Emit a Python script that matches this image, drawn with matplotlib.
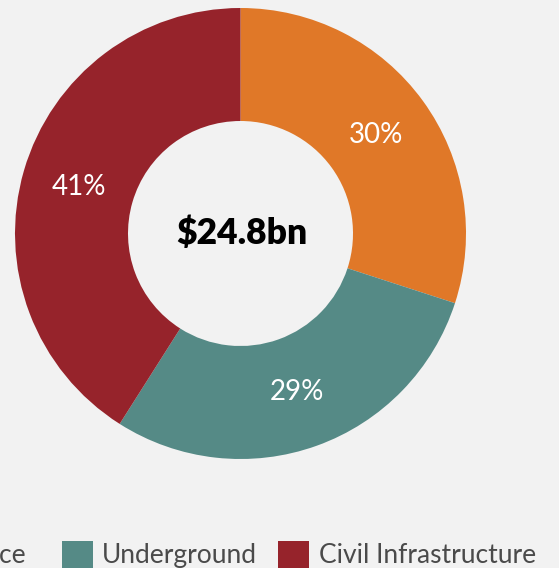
import matplotlib
matplotlib.use("Agg")
import matplotlib.pyplot as plt
from matplotlib.patches import Rectangle

# data
categories = ['Surface', 'Underground', 'Civil Infrastructure']
shares = [30, 29, 41]
colors = ['#E07828', '#558A86', '#96232B']
total_label = '$24.8bn'

W, H = 559, 568
bg = '#F2F2F2'

fig = plt.figure(figsize=(W / 100, H / 100), dpi=100, facecolor=bg)
ax = fig.add_axes([0, 0, 1, 1])
ax.set_facecolor(bg)

# donut, centre and radius in pixel units (y measured from bottom)
radius = 225.5
wedges, texts, autotexts = ax.pie(
    shares, colors=colors, startangle=90, counterclock=False,
    radius=radius, center=(240.5, H - 233.5),
    wedgeprops=dict(width=113, edgecolor='none', linewidth=0),
    autopct='%d%%', pctdistance=0.745,
    textprops=dict(color='white', fontsize=20, family='Lato'))

ax.text(241.5, H - 233, total_label, ha='center', va='center',
        fontsize=25.5, fontweight='heavy', family='Lato', color='black')

# legend along the bottom, wider than the figure so it gets cut off
patch_x = [-110, 62, 278]
text_x = [26, 102, 319]
aligns = ['right', 'left', 'left']
for cat, col, px, tx, ha in zip(categories, colors, patch_x, text_x, aligns):
    ax.add_patch(Rectangle((px, H - 572), 31, 31, facecolor=col, edgecolor='none',
                           clip_on=False))
    ax.text(tx, H - 563, cat, ha=ha, va='baseline', fontsize=19,
            family='Lato', color='#4A4A4A')

ax.set_xlim(0, W)
ax.set_ylim(0, H)
ax.set_aspect('auto')
ax.axis('off')

fig.savefig('out.png', dpi=100, facecolor=bg)
